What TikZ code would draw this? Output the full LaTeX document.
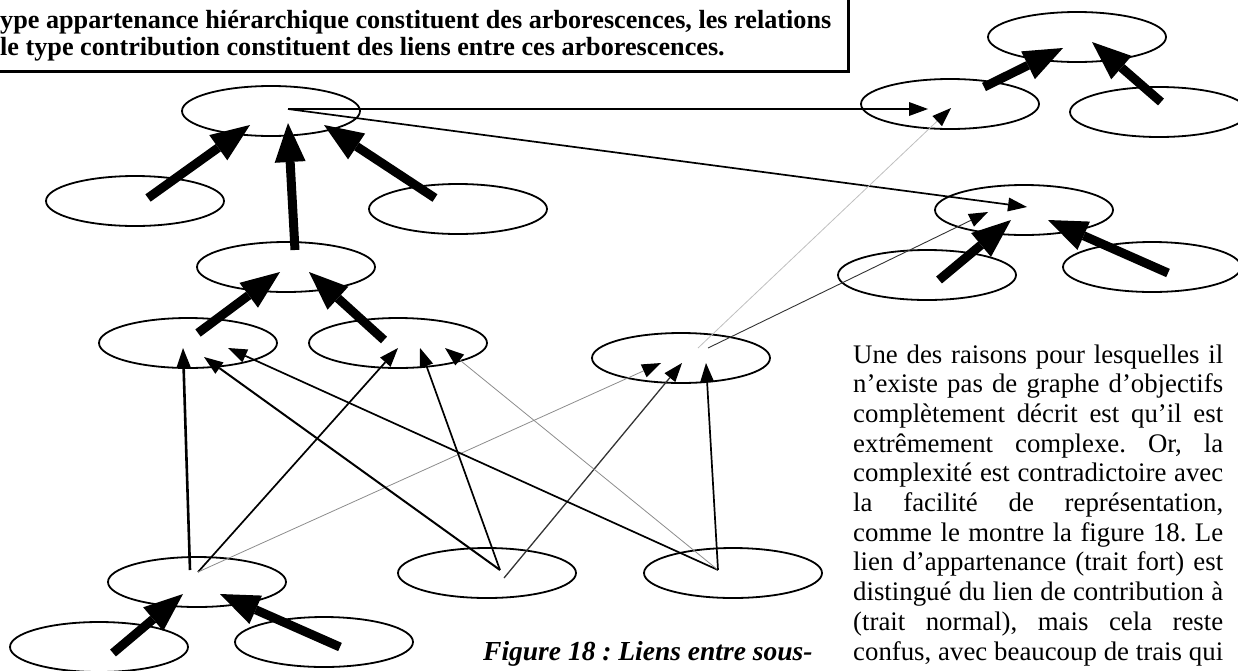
\documentclass[tikz,border=0pt]{standalone}
\usepackage{fontspec}
\setmainfont{Liberation Serif}
\usetikzlibrary{arrows.meta,shapes.geometric}
\frenchspacing
\begin{document}
\begin{tikzpicture}[x=1pt,y=-1pt,
  ell/.style={ellipse,draw,line width=1.8pt,minimum width=178pt,minimum height=50pt,inner sep=0pt},
  hier/.style={line width=9pt,-{Triangle[length=39pt,width=31pt,line width=0pt]}},
  link/.style={line width=1.7pt,-{Triangle[length=19pt,width=14pt,line width=0pt,color=black]}},
  stronglink/.style={link,line width=2.6pt},
  darklink/.style={link,line width=1.3pt,draw=black!80},
  faintlink/.style={link,line width=0.8pt,draw=black!45},
  palelink/.style={link,line width=0.8pt,draw=black!25},
  boxtext/.style={font=\fontsize{26.2}{27}\selectfont\bfseries,inner sep=0pt,anchor=base west},
  para/.style={font=\fontsize{26.8}{29.7}\selectfont,inner sep=0pt,anchor=base west},
  captext/.style={font=\fontsize{27.5}{29.7}\selectfont\bfseries\itshape,inner sep=0pt,anchor=base west}
]
\useasboundingbox (0,0) rectangle (1238,670);
\clip (0,0) rectangle (1238,670);

% text box
\draw[line width=3pt] (-40,-40) rectangle (848,71);
\node[boxtext] (box1) at (0,28) {ype appartenance hiérarchique constituent des arborescences, les relations};
\node[boxtext] (box2) at (0,55) {le type contribution constituent des liens entre ces arborescences.};

% ellipses
\node[ell] (A)  at (271,111) {};
\node[ell] (B1) at (135,201) {};
\node[ell] (B3) at (458,209) {};
\node[ell] (C)  at (286,267) {};
\node[ell] (D1) at (188,343) {};
\node[ell] (D2) at (398,343) {};
\node[ell] (E)  at (681,358) {};
\node[ell] (F)  at (197,582) {};
\node[ell] (FL) at (99,647) {};
\node[ell] (FR) at (324,642) {};
\node[ell] (G)  at (487,573) {};
\node[ell] (H)  at (733,573) {};
\node[ell] (T)  at (1077,37) {};
\node[ell] (U)  at (950,104) {};
\node[ell] (R1) at (1159,112) {};
\node[ell] (L)  at (1024,210) {};
\node[ell] (LL) at (927,275) {};
\node[ell] (LR) at (1152,267) {};

% points for the hierarchy arrows
\coordinate (hB1s) at (148,198); \coordinate (hB1t) at (250,125);
\coordinate (hB3s) at (435,198); \coordinate (hB3t) at (324,125);
\coordinate (hCs)  at (295,250); \coordinate (hCt)  at (288,123);
\coordinate (hD1s) at (198,333); \coordinate (hD1t) at (280,272);
\coordinate (hD2s) at (384,340); \coordinate (hD2t) at (309,272);
\coordinate (hFLs) at (113,653); \coordinate (hFLt) at (183,594);
\coordinate (hFRs) at (340,647); \coordinate (hFRt) at (220,594);
\coordinate (hUs)  at (984,87);  \coordinate (hUt)  at (1063,48);
\coordinate (hR1s) at (1161,102);\coordinate (hR1t) at (1092,42);
\coordinate (hLLs) at (939,280); \coordinate (hLLt) at (1011,220);
\coordinate (hLRs) at (1168,273);\coordinate (hLRt) at (1048,220);

\draw[hier] (hB1s) -- (hB1t);
\draw[hier] (hB3s) -- (hB3t);
\draw[hier] (hCs) -- (hCt);
\draw[hier] (hD1s) -- (hD1t);
\draw[hier] (hD2s) -- (hD2t);
\draw[hier] (hFLs) -- (hFLt);
\draw[hier] (hFRs) -- (hFRt);
\draw[hier] (hUs) -- (hUt);
\draw[hier] (hR1s) -- (hR1t);
\draw[hier] (hLLs) -- (hLLt);
\draw[hier] (hLRs) -- (hLRt);

% points for the contribution links
\coordinate (As) at (288,109);
\coordinate (Fs1) at (190,570);
\coordinate (Fs2) at (198,572);
\coordinate (Gs1) at (500,570);
\coordinate (Gs2) at (504,578);
\coordinate (Hs) at (718,570);
\coordinate (Es1) at (698,348);
\coordinate (Es2) at (708,348);
\coordinate (D1a) at (183,348); \coordinate (D1b) at (204,357); \coordinate (D1c) at (228,348);
\coordinate (D2a) at (398,348); \coordinate (D2b) at (420,348); \coordinate (D2c) at (445,348);
\coordinate (Ea) at (661,363);  \coordinate (Eb) at (682,363);  \coordinate (Ec) at (706,363);
\coordinate (Ua) at (928,109);  \coordinate (Ub) at (951,108);
\coordinate (La) at (1027,207); \coordinate (Lb) at (988,212);

\draw[stronglink] (As) -- (Ua);
\draw[link] (As) -- (La);
\draw[stronglink] (Fs1) -- (D1a);
\draw[link] (Fs2) -- (D2a);
\draw[faintlink] (Fs2) -- (Ea);
\draw[link,line width=2pt] (Gs1) -- (D1b);
\draw[link] (Gs1) -- (D2b);
\draw[darklink] (Gs2) -- (Eb);
\draw[link] (Hs) -- (D1c);
\draw[faintlink] (Hs) -- (D2c);
\draw[link] (Hs) -- (Ec);
\draw[palelink] (Es1) -- (Ub);
\draw[darklink,line width=0.9pt] (Es2) -- (Lb);

% caption
\node[captext] (cap) at (483,660) {Figure 18 : Liens entre sous-};

% paragraph
\foreach \t [count=\i] in {%
  {Une des raisons pour lesquelles il},
  {n’existe pas de graphe d’objectifs},
  {complètement décrit est qu’il est},
  {extrêmement complexe. Or, la},
  {complexité est contradictoire avec},
  {la facilité de représentation,},
  {comme le montre la figure 18. Le},
  {lien d’appartenance (trait fort) est},
  {distingué du lien de contribution à},
  {(trait normal), mais cela reste},
  {confus, avec beaucoup de trais qui}}
  \node[para] (p\i) at (853,{363+(\i-1)*29.7}) {\makebox[370pt][s]{\t}};
\end{tikzpicture}
\end{document}
